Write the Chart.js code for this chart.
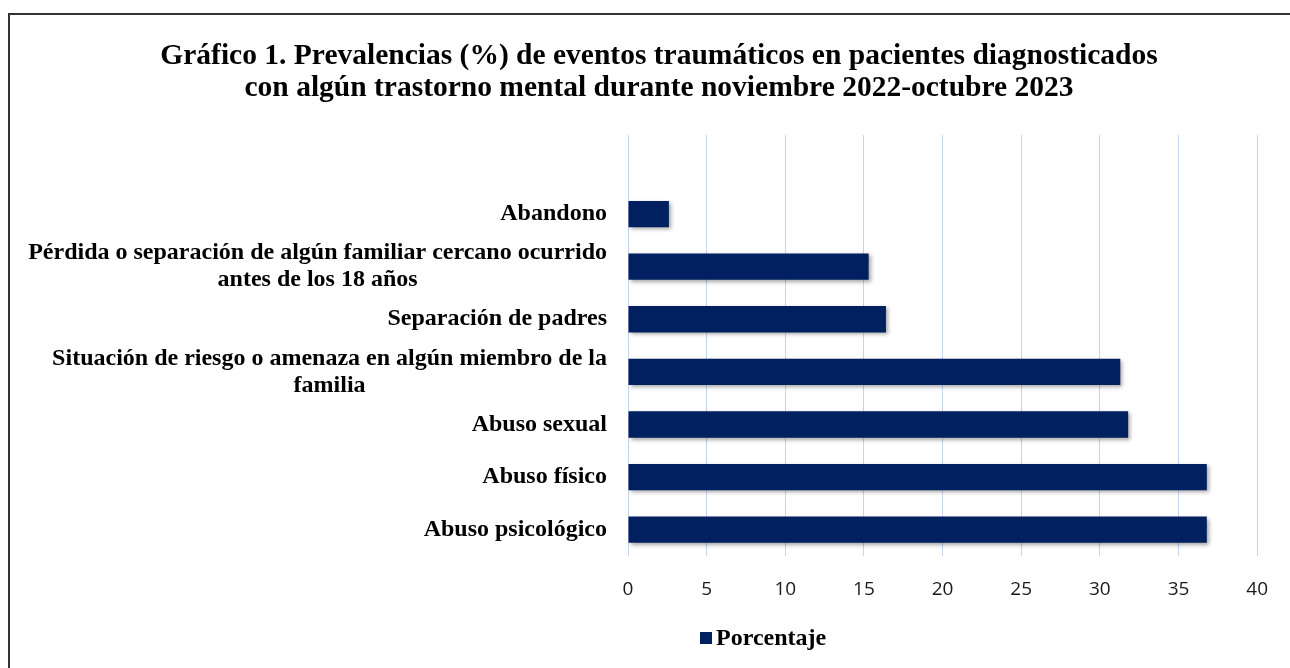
<!DOCTYPE html>
<html>
<head>
<meta charset="utf-8">
<script src="https://cdn.jsdelivr.net/npm/chart.js@4"></script>
<style>
  html, body { margin: 0; padding: 0; background: #fff; overflow: hidden; }
  #frame { position: absolute; left: 8px; top: 13px; width: 1300px; height: 700px; border: 2px solid #333; }
  #wrap { position: absolute; left: 0; top: 0; width: 1290px; height: 668px; }
</style>
</head>
<body>
<div id="frame"></div>
<div id="wrap"><canvas id="chart"></canvas></div>
<script>
// categories top to bottom, as in the picture
const categories = [
  ['Abandono'],
  ['Pérdida o separación de algún familiar cercano ocurrido', 'antes de los 18 años'],
  ['Separación de padres'],
  ['Situación de riesgo o amenaza en algún miembro de la', 'familia'],
  ['Abuso sexual'],
  ['Abuso físico'],
  ['Abuso psicológico']
];
const porcentaje = [2.6, 15.3, 16.4, 31.3, 31.8, 36.8, 36.8];
const xTicks = [0, 5, 10, 15, 20, 25, 30, 35, 40];
const titleLines = [
  'Gráfico 1. Prevalencias (%) de eventos traumáticos en pacientes diagnosticados',
  'con algún trastorno mental durante noviembre 2022-octubre 2023'
];

const barColor = '#002060';
const serifBold = '"Liberation Serif", "Times New Roman", serif';

// the source chart leaves one empty slot above the first bar
const labels = [''].concat(categories);
const values = [null].concat(porcentaje);

const barShadow = {
  id: 'barShadow',
  beforeDatasetsDraw(chart) {
    const ctx = chart.ctx;
    ctx.save();
    ctx.shadowColor = 'rgba(0,0,0,0.35)';
    ctx.shadowBlur = 4;
    ctx.shadowOffsetX = 2;
    ctx.shadowOffsetY = 2;
  },
  afterDatasetsDraw(chart) {
    chart.ctx.restore();
  }
};

// category labels: each block right aligned, lines centred inside the block
const catLabels = {
  id: 'catLabels',
  afterDraw(chart) {
    const ctx = chart.ctx;
    const yScale = chart.scales.y;
    const right = chart.chartArea.left - 21;
    const lh = 27;
    ctx.save();
    ctx.font = 'bold 24px ' + serifBold;
    ctx.fillStyle = '#000';
    ctx.textAlign = 'center';
    ctx.textBaseline = 'middle';
    labels.forEach((lines, i) => {
      if (!lines) return;
      const y = yScale.getPixelForValue(i);
      const w = Math.max(...lines.map(l => ctx.measureText(l).width));
      const cx = right - w / 2;
      const y0 = y - (lines.length - 1) * lh / 2;
      lines.forEach((l, k) => ctx.fillText(l, cx, y0 + k * lh));
    });
    ctx.restore();
  }
};

const legendBox = {
  id: 'legendBox',
  afterDraw(chart) {
    const ctx = chart.ctx;
    const ds = chart.data.datasets[0];
    const y = 638;
    const x = 700;
    ctx.save();
    ctx.fillStyle = ds.backgroundColor;
    ctx.fillRect(x, y - 6, 12, 12);
    ctx.font = 'bold 24px ' + serifBold;
    ctx.fillStyle = '#000';
    ctx.textBaseline = 'middle';
    ctx.fillText(ds.label, x + 16, y + 1);
    ctx.restore();
  }
};

new Chart(document.getElementById('chart'), {
  type: 'bar',
  data: {
    labels: labels,
    datasets: [{
      label: 'Porcentaje',
      data: values,
      backgroundColor: barColor,
      borderWidth: 0,
      barPercentage: 0.5,
      categoryPercentage: 1
    }]
  },
  options: {
    indexAxis: 'y',
    responsive: true,
    maintainAspectRatio: false,
    animation: false,
    layout: { padding: { left: 59, right: 31, top: 0, bottom: 62 } },
    plugins: {
      legend: { display: false },
      tooltip: { enabled: false },
      title: {
        display: true,
        text: titleLines,
        color: '#000',
        font: { family: serifBold, size: 29.5, weight: 'bold', lineHeight: 1.07 },
        padding: { top: 41, bottom: 31 }
      }
    },
    scales: {
      x: {
        min: 0,
        max: 40,
        afterBuildTicks(scale) {
          scale.ticks = xTicks.map(v => ({ value: v }));
        },
        afterFit(scale) { scale.height = 50; },
        grid: { color: '#C6D5EE', lineWidth: 1, drawTicks: false },
        border: { display: false },
        ticks: {
          padding: 22,
          maxRotation: 0,
          color: '#1a1a1a',
          font: { family: '"Open Sans", "Liberation Sans", sans-serif', size: 19 }
        }
      },
      y: {
        afterFit(scale) { scale.width = 569; },
        grid: { display: false },
        border: { display: false },
        ticks: { display: false }
      }
    }
  },
  plugins: [barShadow, catLabels, legendBox]
});
</script>
</body>
</html>
